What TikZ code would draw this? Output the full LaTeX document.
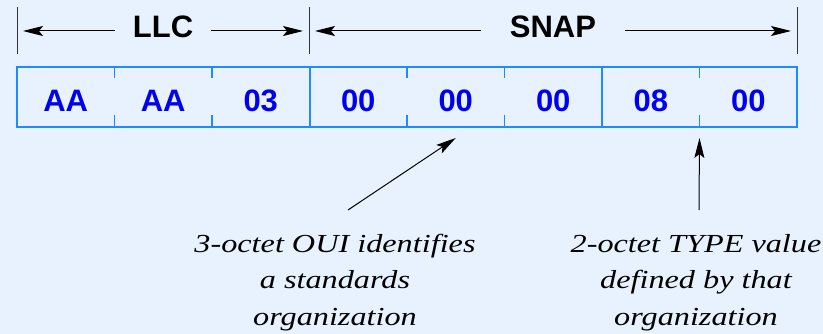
\documentclass[tikz,border=0pt]{standalone}
\usepackage{fontspec}
\setsansfont{Liberation Sans}
\newfontfamily\notefont[FakeStretch=1.24]{Liberation Serif}
\usepackage{tikz}
\usetikzlibrary{arrows.meta}

\definecolor{bgblue}{RGB}{232,242,254}
\definecolor{frameblue}{RGB}{30,140,255}
\definecolor{octetblue}{RGB}{0,0,240}

\tikzset{
  cell/.style={minimum width=97.5pt, minimum height=60pt, inner sep=0pt, outer sep=0pt,
    text height=29.5pt, text depth=0pt, text=octetblue,
    font=\sffamily\bfseries\fontsize{31}{31}\selectfont},
  dimlabel/.style={inner ysep=0pt, text height=22pt, text depth=8pt,
    font=\sffamily\bfseries\fontsize{31}{31}\selectfont},
  dim/.style={line width=1pt, -{Stealth[length=20pt,width=10pt,inset=4pt]}, shorten >=6pt},
  bar/.style={line width=1pt, black!80},
  ptr/.style={line width=1pt, -{Stealth[length=20pt,width=10pt,inset=4pt]}},
  note/.style={align=center, font=\notefont\itshape\fontsize{26}{36.5}\selectfont}
}

\begin{document}
\begin{tikzpicture}[x=1pt,y=-1pt]
        \fill[bgblue] (0,0) rectangle (823,334);
        \useasboundingbox (0,0) rectangle (823,334);

        % octets
        \foreach \v [count=\i] in {AA,AA,03,00,00,00,08,00}
            \node[cell] (c\i) at ({17+97.5*(\i-0.5)},97) {\v};

        \draw[frameblue, line width=2.5pt] (c1.north west) rectangle (c8.south east);
        \foreach \i in {3,6}
            \draw[frameblue, line width=2pt] (c\i.north east) -- (c\i.south east);
        \foreach \i in {1,2,4,5,7} {
            \draw[frameblue, line width=1.5pt] (c\i.north east) -- ++(0,11);
            \draw[frameblue, line width=1.5pt] (c\i.south east) -- ++(0,-12);
        }

        % LLC and SNAP extents
        \draw[bar] (17,7) -- (17,54);
        \draw[bar] (309,7) -- (309,54);
        \draw[bar] (797,7) -- (797,54);
        \coordinate (e1) at (17,31);
        \coordinate (e2) at (309,31);
        \coordinate (e3) at (797,31);

        \node[dimlabel, inner xsep=18pt] (llc) at (163,31) {LLC};
        \node[dimlabel, inner xsep=29pt] (snap) at (553,31) {SNAP};
        \draw[dim] (llc.west) -- (e1);
        \draw[dim] (llc.east) -- (e2);
        \draw[dim] (snap.west) -- (e2);
        \draw[dim] (snap.east) -- (e3);

        % notes
        \node[note, anchor=base] (oui) at (335,325) {3-octet OUI identifies\\a standards\\organization};
        \node[note, anchor=base] (type) at (696,325) {2-octet TYPE value\\defined by that\\organization};
        \coordinate (t1) at (348,210);
        \coordinate (t2) at (699,210);
        \draw[ptr] (t1) -- ([yshift=-11pt]c5.south);
        \draw[ptr] (t2) -- ([yshift=-11pt]c7.south east);
    \end{tikzpicture}
\end{document}
